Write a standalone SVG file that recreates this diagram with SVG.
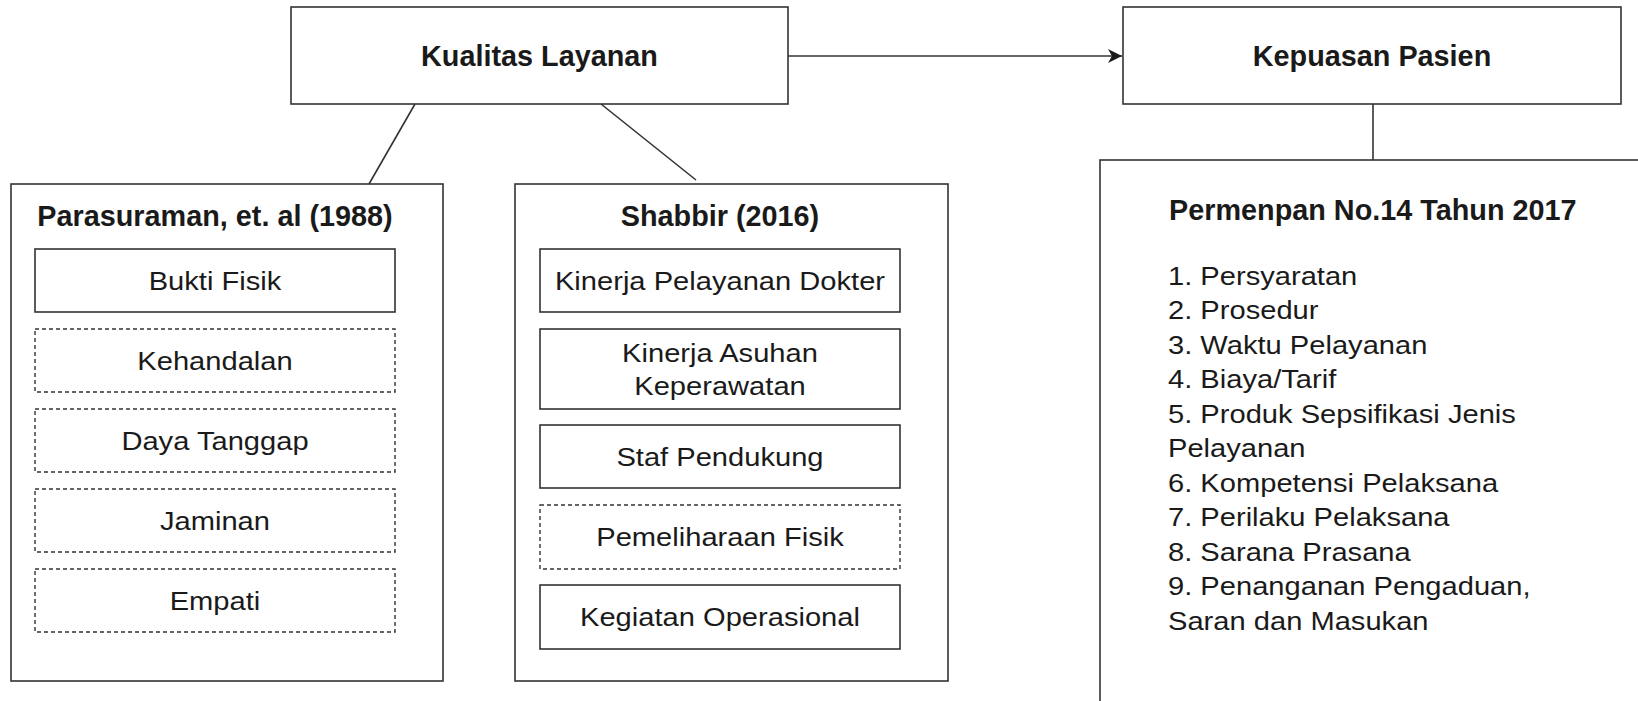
<svg xmlns="http://www.w3.org/2000/svg" width="1638" height="701" viewBox="0 0 1638 701">
<defs>
<style>
.box{fill:#fff;stroke:#333;stroke-width:1.6}
.dash{fill:#fff;stroke:#333;stroke-width:1.4;stroke-dasharray:4 3}
.ln{fill:none;stroke:#333;stroke-width:1.6}
text{font-family:"Liberation Sans",Arial,Helvetica,sans-serif;fill:#1a1a1a}
.t{font-size:26px;text-anchor:middle}
.b{font-size:28.8px;font-weight:bold;text-anchor:middle}
.bl{font-size:28.8px;font-weight:bold}
.l{font-size:26px}
</style>
<marker id="arr" markerWidth="16" markerHeight="14" refX="14" refY="7" orient="auto" markerUnits="userSpaceOnUse">
<path d="M0,0 L14,7 L0,14 L4,7 Z" fill="#1a1a1a"/>
</marker>
</defs>
<rect width="1638" height="701" fill="#fff"/>

<g id="connectors">
<line class="ln" x1="788" y1="56" x2="1122" y2="56" marker-end="url(#arr)"/>
<line class="ln" x1="415" y1="104" x2="369" y2="184"/>
<line class="ln" x1="601" y1="104" x2="696" y2="180"/>
<line class="ln" x1="1373" y1="104" x2="1373" y2="160"/>
</g>

<g id="kualitas">
<rect class="box" x="291" y="7" width="497" height="97"/>
<text class="b" x="539.5" y="66">Kualitas Layanan</text>
</g>

<g id="kepuasan">
<rect class="box" x="1123" y="7" width="498" height="97"/>
<text class="b" x="1372" y="66">Kepuasan Pasien</text>
</g>

<g id="parasuraman">
<rect class="box" x="11" y="184" width="432" height="497"/>
<text class="b" x="215" y="226">Parasuraman, et. al (1988)</text>
</g>
<g id="bukti-fisik">
<rect class="box" x="35" y="249" width="360" height="63"/>
<g transform="scale(1.12,1)"><text class="t" x="191.96" y="290">Bukti Fisik</text></g>
</g>
<g id="kehandalan">
<rect class="dash" x="35" y="329" width="360" height="63"/>
<g transform="scale(1.12,1)"><text class="t" x="191.96" y="370">Kehandalan</text></g>
</g>
<g id="daya-tanggap">
<rect class="dash" x="35" y="409" width="360" height="63"/>
<g transform="scale(1.12,1)"><text class="t" x="191.96" y="450">Daya Tanggap</text></g>
</g>
<g id="jaminan">
<rect class="dash" x="35" y="489" width="360" height="63"/>
<g transform="scale(1.12,1)"><text class="t" x="191.96" y="530">Jaminan</text></g>
</g>
<g id="empati">
<rect class="dash" x="35" y="569" width="360" height="63"/>
<g transform="scale(1.12,1)"><text class="t" x="191.96" y="610">Empati</text></g>
</g>

<g id="shabbir">
<rect class="box" x="515" y="184" width="433" height="497"/>
<text class="b" x="720" y="226">Shabbir (2016)</text>
</g>
<g id="kinerja-dokter">
<rect class="box" x="540" y="249" width="360" height="63"/>
<g transform="scale(1.12,1)"><text class="t" x="642.86" y="290">Kinerja Pelayanan Dokter</text></g>
</g>
<g id="kinerja-asuhan">
<rect class="box" x="540" y="329" width="360" height="80"/>
<g transform="scale(1.12,1)">
<text class="t" x="642.86" y="362">Kinerja Asuhan</text>
<text class="t" x="642.86" y="395">Keperawatan</text>
</g>
</g>
<g id="staf-pendukung">
<rect class="box" x="540" y="425" width="360" height="63"/>
<g transform="scale(1.12,1)"><text class="t" x="642.86" y="466">Staf Pendukung</text></g>
</g>
<g id="pemeliharaan-fisik">
<rect class="dash" x="540" y="505" width="360" height="64"/>
<g transform="scale(1.12,1)"><text class="t" x="642.86" y="546">Pemeliharaan Fisik</text></g>
</g>
<g id="kegiatan-operasional">
<rect class="box" x="540" y="585" width="360" height="64"/>
<g transform="scale(1.12,1)"><text class="t" x="642.86" y="626">Kegiatan Operasional</text></g>
</g>

<g id="permenpan">
<rect class="box" x="1100" y="160" width="560" height="560"/>
<text class="bl" x="1169" y="220">Permenpan No.14 Tahun 2017</text>
<g transform="scale(1.12,1)">
<text class="l" x="1042.86" y="285">1. Persyaratan</text>
<text class="l" x="1042.86" y="319.5">2. Prosedur</text>
<text class="l" x="1042.86" y="354">3. Waktu Pelayanan</text>
<text class="l" x="1042.86" y="388.5">4. Biaya/Tarif</text>
<text class="l" x="1042.86" y="423">5. Produk Sepsifikasi Jenis</text>
<text class="l" x="1042.86" y="457.5">Pelayanan</text>
<text class="l" x="1042.86" y="492">6. Kompetensi Pelaksana</text>
<text class="l" x="1042.86" y="526.5">7. Perilaku Pelaksana</text>
<text class="l" x="1042.86" y="561">8. Sarana Prasana</text>
<text class="l" x="1042.86" y="595.5">9. Penanganan Pengaduan,</text>
<text class="l" x="1042.86" y="630">Saran dan Masukan</text>
</g>
</g>
</svg>
